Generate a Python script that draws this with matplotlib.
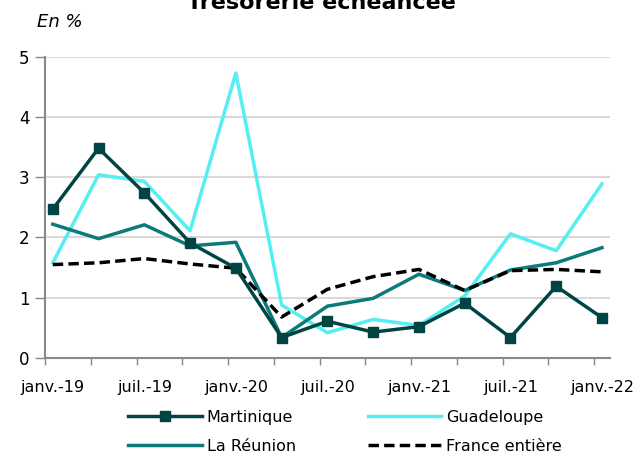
import matplotlib
matplotlib.use("Agg")
import matplotlib.pyplot as plt
import numpy as np

plt.rcParams['font.family'] = ['DejaVu Sans']

periods = ["janv.-19", "avr.-19", "juil.-19", "oct.-19", "janv.-20", "avr.-20", "juil.-20",
           "oct.-20", "janv.-21", "avr.-21", "juil.-21", "oct.-21", "janv.-22"]
martinique = [2.47, 3.48, 2.74, 1.91, 1.49, 0.34, 0.61, 0.43, 0.52, 0.91, 0.34, 1.19, 0.67]
guadeloupe = [1.58, 3.04, 2.93, 2.11, 4.73, 0.88, 0.42, 0.64, 0.54, 1.03, 2.06, 1.78, 2.89]
reunion = [2.22, 1.98, 2.21, 1.86, 1.92, 0.34, 0.86, 0.99, 1.39, 1.12, 1.46, 1.58, 1.83]
france = [1.55, 1.58, 1.65, 1.56, 1.49, 0.68, 1.14, 1.35, 1.47, 1.12, 1.45, 1.47, 1.43]
yticks = [0, 1, 2, 3, 4, 5]

fig = plt.figure(figsize=(6.43, 4.68), dpi=100)
ax = fig.add_axes([0.07, 0.235, 0.879, 0.644])
x = np.arange(len(periods))

ax.plot(x, martinique, color="#004544", lw=2.5, marker="s", markersize=7, label="Martinique", zorder=5)
ax.plot(x, guadeloupe, color="#55EEF2", lw=2.5, label="Guadeloupe", zorder=3)
ax.plot(x, reunion, color="#0B7A7A", lw=2.5, label="La Réunion", zorder=4)
ax.plot(x, france, color="black", lw=2.5, ls=(0, (3, 1.5)), label="France entière", zorder=4)

ax.set_xlim(-0.17, 12.18)
ax.set_ylim(0, 5)
ax.set_yticks(yticks)
ax.set_yticklabels([str(v) for v in yticks], fontsize=12)
ax.set_xticks(x[::2])
ax.set_xticklabels(periods[::2], fontsize=11.5)
ax.tick_params(axis='x', length=0, pad=16)
ax.set_xticks(x - 0.17, minor=True)
ax.tick_params(axis='x', which='minor', length=5, color="#888888", width=1)
ax.tick_params(axis='y', length=7, color="#888888", width=1, pad=4)

ax.grid(axis='y', color="#d9d9d9", lw=1.5)
ax.set_axisbelow(True)
for s in ['top', 'right']:
    ax.spines[s].set_visible(False)
for s in ['left', 'bottom']:
    ax.spines[s].set_color("#888888")
    ax.spines[s].set_linewidth(1.5)

fig.text(0.5, 1 - 9 / 468, "Trésorerie échéancée", ha='center', va='baseline', fontsize=16, fontweight='bold')
fig.text(0.058, 0.953, "En %", ha='left', va='center', fontsize=13, style='italic')

handles, labels = ax.get_legend_handles_labels()
order = [0, 2, 1, 3]
fig.legend([handles[i] for i in order], [labels[i] for i in order], ncol=2,
           loc='upper center', bbox_to_anchor=(345 / 643, 1 - 410 / 468), frameon=False, fontsize=11.5,
           handlelength=4.6, columnspacing=4.5, handletextpad=0.3, labelspacing=0.85,
           borderpad=0, borderaxespad=0)

fig.savefig("out.png", dpi=100)
